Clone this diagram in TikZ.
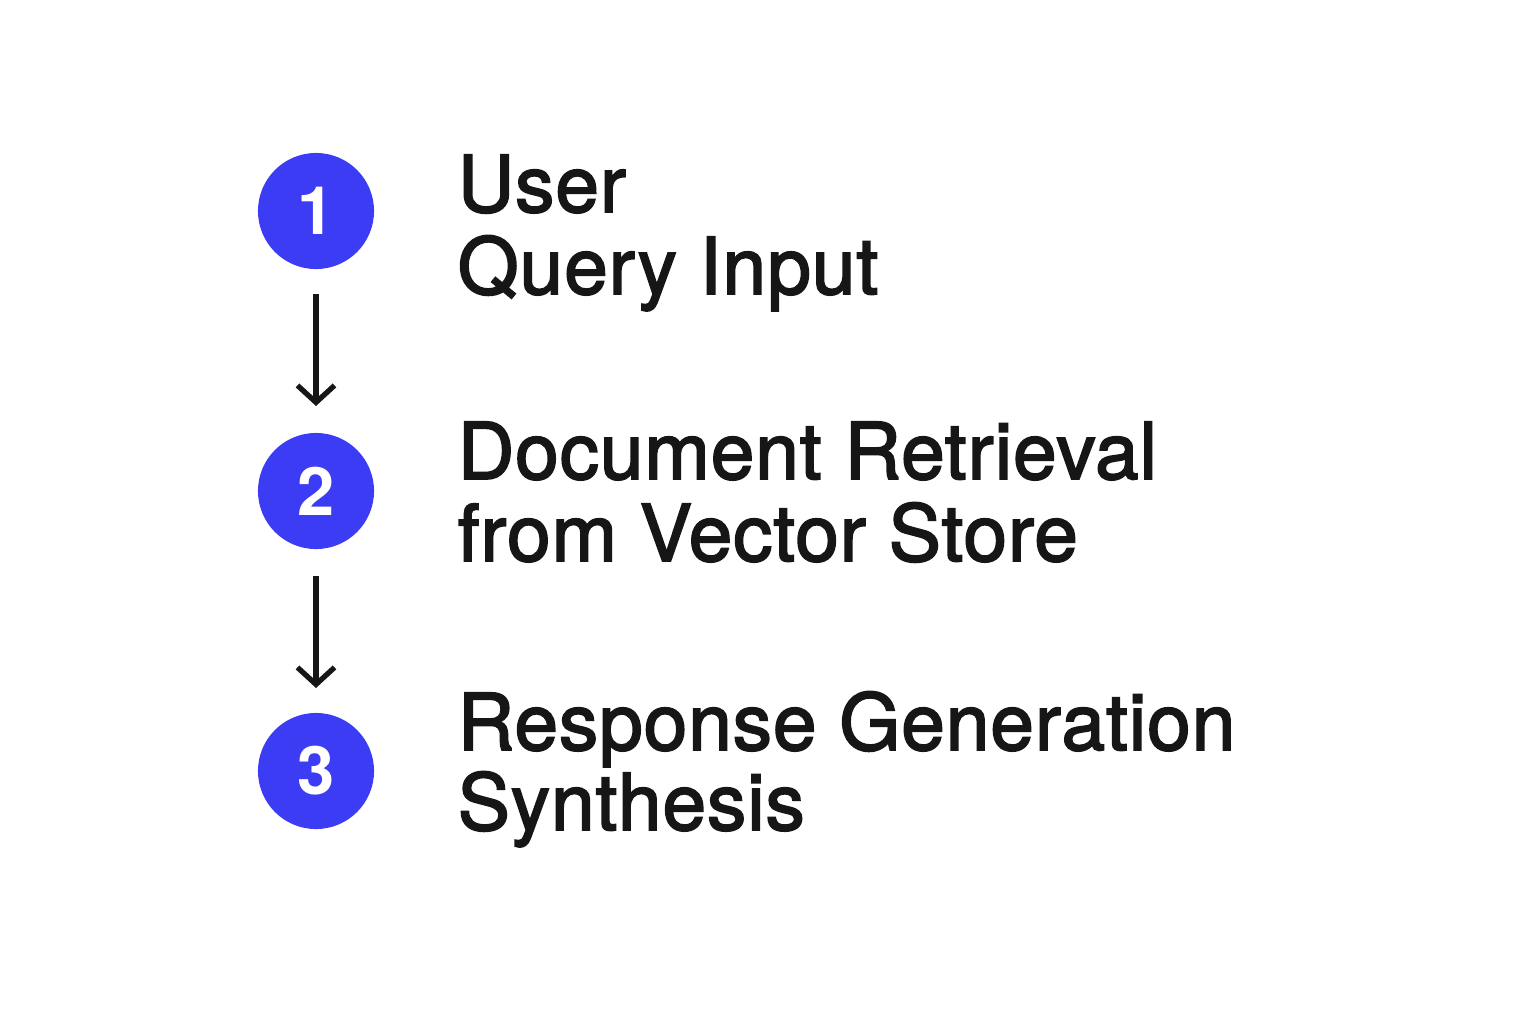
\documentclass[tikz,border=0pt]{standalone}
\usepackage{fontspec}
\setmainfont{TeX Gyre Heros}
\newfontfamily\labelfont{TeX Gyre Heros}[RawFeature={embolden=2.2},LetterSpace=1.2]
\usetikzlibrary{arrows.meta}
\definecolor{stepblue}{HTML}{3C3CF5}
\definecolor{ink}{HTML}{161616}
\begin{document}
\begin{tikzpicture}[x=0.01cm,y=-0.01cm,
  numcircle/.style={circle,fill=stepblue,minimum size=1.16cm,inner sep=0pt,text=white,font=\fontsize{19}{22}\selectfont\bfseries},
  label/.style={anchor=base west,inner sep=0pt,text=ink,font=\labelfont\fontsize{22.3}{26}\selectfont},
  flow/.style={draw=ink,line width=1.5pt,-{Straight Barb[length=1.7mm,width=3.7mm,line width=1.5pt]}}]
\useasboundingbox[fill=white] (0,0) rectangle (1536,1024);
\node[numcircle] (c1) at (316,211) {1};
\node[numcircle] (c2) at (316,491) {2};
\node[numcircle] (c3) at (316,771) {3};
\coordinate (a1s) at (316,294);
\coordinate (a1e) at (316,406);
\coordinate (a2s) at (316,576);
\coordinate (a2e) at (316,688);
\draw[flow] (a1s) -- (a1e);
\draw[flow] (a2s) -- (a2e);
\node[label] (t1a) at (457,212) {User};
\node[label] (t1b) at (457,294) {Query Input};
\node[label] (t2a) at (457,479) {Document Retrieval};
\node[label] (t2b) at (457,561) {from Vector Store};
\node[label] (t3a) at (457,750) {Response Generation};
\node[label] (t3b) at (457,830) {Synthesis};
\end{tikzpicture}
\end{document}
